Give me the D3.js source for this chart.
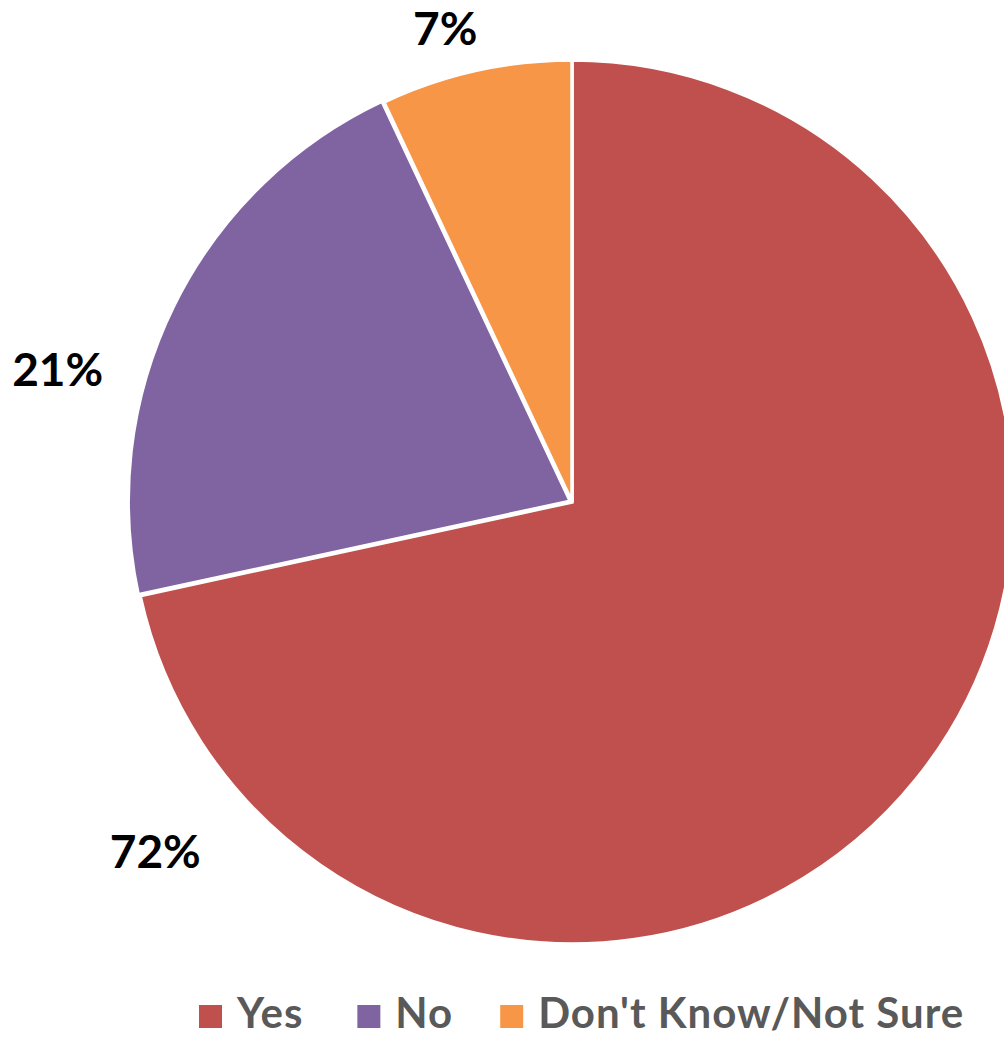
<!DOCTYPE html>
<html lang="en">
<head>
    <meta charset="UTF-8">
    <title>Pie Chart</title>
    <script src="https://d3js.org/d3.v7.min.js"></script>
    <style>
        body { margin: 0; background: white; }
        text { font-family: Lato, "Open Sans", sans-serif; font-weight: bold; }
    </style>
</head>
<body>
    <script>
        // data
        var categories = ["Yes", "No", "Don't Know/Not Sure"];
        var values = [71.6, 21.4, 7.0];
        var labels = ["72%", "21%", "7%"];
        var colors = ["#C0504D", "#8064A2", "#F79646"];

        var w = 1004;
        var h = 1037;
        var cx = 572;
        var cy = 502;
        var radius = 442;

        var svg = d3.select("body")
                    .append("svg")
                    .attr("width", w)
                    .attr("height", h);

        var pie = d3.pie().sort(null).value((d) => d);
        var arcs = pie(values);

        var arc = d3.arc().innerRadius(0).outerRadius(radius);

        var g = svg.append("g").attr("transform", "translate(" + cx + "," + cy + ")");

        // the "No" slice is pulled out a tiny bit, like in the original
        var explode = [0, 2, 0];

        g.selectAll("path")
            .data(arcs)
            .join("path")
            .attr("d", arc)
            .attr("transform", (d, i) => {
                var mid = (d.startAngle + d.endAngle) / 2;
                var p = d3.pointRadial(mid, explode[i]);
                return "translate(" + p[0] + "," + p[1] + ")";
            })
            .style("fill", (d, i) => colors[i])
            .style("stroke", "white")
            .style("stroke-width", 3.5)
            .style("stroke-linejoin", "miter");

        // label placement (excel "best fit"), angle in degrees from top, distance from centre
        var labelPlace = [
            {angle: 230.0, r: 544},
            {angle: 284.4, r: 531},
            {angle: 345.0, r: 490}
        ];

        g.selectAll("text.lbl")
            .data(arcs)
            .join("text")
            .attr("class", "lbl")
            .attr("x", (d, i) => d3.pointRadial(labelPlace[i].angle * Math.PI / 180, labelPlace[i].r)[0])
            .attr("y", (d, i) => d3.pointRadial(labelPlace[i].angle * Math.PI / 180, labelPlace[i].r)[1])
            .attr("dy", 16)
            .attr("text-anchor", "middle")
            .style("font-size", "46px")
            .style("fill", "black")
            .text((d, i) => labels[i]);

        // legend
        var legend = svg.append("g").attr("class", "legend");
        var lx = 199;
        var box = 23;
        var gaps = [54, 47, 0];
        categories.forEach(function(c, i) {
            legend.append("rect")
                .attr("x", lx)
                .attr("y", 1005)
                .attr("width", box)
                .attr("height", box)
                .style("fill", colors[i]);
            var t = legend.append("text")
                .attr("x", lx + box + 15)
                .attr("y", 1028)
                .style("font-size", "42px")
                .style("letter-spacing", "1px")
                .style("fill", "#595959")
                .text(c);
            lx = lx + box + 15 + t.node().getComputedTextLength() + gaps[i];
        });
    </script>
</body>
</html>
